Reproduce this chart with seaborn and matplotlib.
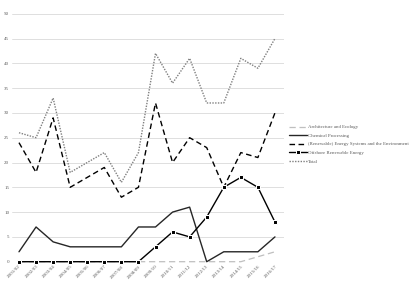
import matplotlib
matplotlib.use("Agg")
import matplotlib.pyplot as plt
import seaborn as sns
import pandas as pd

years = ["2001/02", "2002/03", "2003/04", "2004/05", "2005/06", "2006/07", "2007/08", "2008/09",
         "2009/10", "2010/11", "2011/12", "2012/13", "2013/14", "2014/15", "2015/16", "2016/17"]
architecture = [0, 0, 0, 0, 0, 0, 0, 0, 0, 0, 0, 0, 0, 0, 1, 2]
chemical = [2, 7, 4, 3, 3, 3, 3, 7, 7, 10, 11, 0, 2, 2, 2, 5]
renewable = [24, 18, 29, 15, 17, 19, 13, 15, 32, 20, 25, 23, 15, 22, 21, 30]
offshore = [0, 0, 0, 0, 0, 0, 0, 0, 3, 6, 5, 9, 15, 17, 15, 8]
total = [26, 25, 33, 18, 20, 22, 16, 22, 42, 36, 41, 32, 32, 41, 39, 45]

series = [
    ("Architecture and Ecology", architecture, dict(color="#bfbfbf", linestyle=(0, (5, 3)), linewidth=0.9)),
    ("Chemical Processing", chemical, dict(color="#262626", linestyle="-", linewidth=1.0)),
    ("(Renewable) Energy Systems and the Environment", renewable, dict(color="#000000", linestyle=(0, (4, 2.5)), linewidth=1.0)),
    ("Offshore Renewable Energy", offshore, dict(color="#000000", linestyle="-", linewidth=1.0, marker="s", markersize=2.2)),
    ("Total", total, dict(color="#7f7f7f", linestyle=(0, (1, 1)), linewidth=1.0)),
]

sns.set_style("white")
plt.rcParams["font.family"] = ["Liberation Serif", "DejaVu Serif"]

fig = plt.figure(figsize=(4.17, 2.86), dpi=100)
ax = fig.add_axes([12 / 417, 1 - 261.7 / 286, (284 - 12) / 417, (261.7 - 13.7) / 286])

for name, vals, style in series:
    df = pd.DataFrame({"year": years, "value": vals})
    sns.lineplot(data=df, x="year", y="value", ax=ax, label=name, sort=False, **style)

for ln in ax.lines:
    ln.set_clip_on(False)

ax.set_ylim(0, 50)
ax.set_xlim(-0.41, 15.53)
ax.set_yticks(range(0, 51, 5))
ax.set_xticks(range(len(years)))
ax.set_xticklabels(years, rotation=45, ha="right", rotation_mode="anchor")
ax.tick_params(axis="both", labelsize=3.6, labelcolor="#595959", length=0, pad=2)
ax.grid(axis="y", color="#d9d9d9", linewidth=0.6)
ax.set_axisbelow(True)
for s in ax.spines.values():
    s.set_visible(False)
ax.set_xlabel("")
ax.set_ylabel("")

leg = ax.legend(loc="upper left", bbox_to_anchor=(289 / 417, 1 - 125 / 286), bbox_transform=fig.transFigure,
                frameon=False, fontsize=3.5, handlelength=3.6, handletextpad=0.3, labelspacing=0.85,
                borderaxespad=0, borderpad=0)
for t in leg.get_texts():
    t.set_color("#595959")

fig.savefig("out.png", dpi=100)
